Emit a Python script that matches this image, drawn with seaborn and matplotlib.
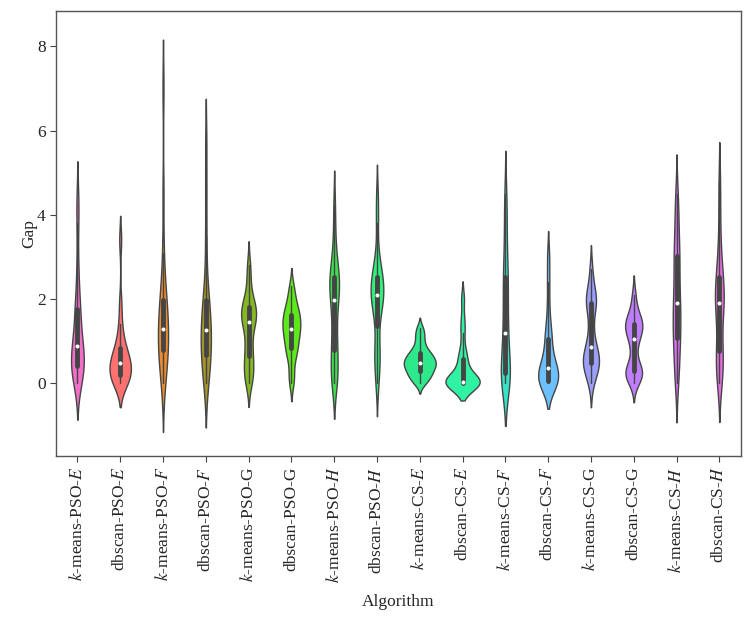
import matplotlib
matplotlib.use("Agg")
import matplotlib.pyplot as plt
import seaborn as sns
import pandas as pd

# categories (tick labels use mathtext for the italic letters)
algorithms = [
    "$k$-means-PSO-$E$", "dbscan-PSO-$E$", "$k$-means-PSO-$F$", "dbscan-PSO-$F$",
    "$k$-means-PSO-G", "dbscan-PSO-G", "$k$-means-PSO-$H$", "dbscan-PSO-$H$",
    "$k$-means-CS-$E$", "dbscan-CS-$E$", "$k$-means-CS-$F$", "dbscan-CS-$F$",
    "$k$-means-CS-G", "dbscan-CS-G", "$k$-means-CS-$H$", "dbscan-CS-$H$",
]

# gap values per algorithm
kmeans_pso_e = [0, 0.1, 0.2, 0.3, 0.38, 0.4, 0.5, 0.6, 0.7, 0.85, 0.9, 1.0, 1.2, 1.5, 1.75, 1.8, 2.2, 2.8, 3.8, 4.4]
dbscan_pso_e = [0, 0, 0.05, 0.1, 0.12, 0.2, 0.3, 0.35, 0.4, 0.45, 0.48, 0.55, 0.6, 0.7, 0.8, 0.9, 1.1, 1.4, 1.9, 3.4]
kmeans_pso_f = [0, 0.2, 0.4, 0.6, 0.7, 0.8, 0.9, 1.0, 1.2, 1.25, 1.33, 1.5, 1.7, 1.85, 1.95, 2.0, 2.5, 3.1, 4.5, 7.0]
dbscan_pso_f = [0, 0.1, 0.3, 0.5, 0.6, 0.7, 0.9, 1.0, 1.1, 1.2, 1.3, 1.45, 1.6, 1.8, 1.95, 2.0, 2.6, 3.5, 4.6, 5.7]
kmeans_pso_g = [0, 0.1, 0.25, 0.35, 0.5, 0.7, 0.8, 1.0, 1.3, 1.4, 1.5, 1.55, 1.6, 1.7, 1.8, 1.85, 1.9, 2.1, 2.5, 2.8]
dbscan_pso_g = [0, 0.2, 0.5, 0.7, 0.8, 0.85, 1.0, 1.1, 1.2, 1.25, 1.3, 1.4, 1.5, 1.55, 1.6, 1.7, 1.8, 1.9, 2.1, 2.3]
kmeans_pso_h = [0, 0.1, 0.2, 0.3, 0.7, 0.8, 1.0, 1.3, 1.6, 1.9, 2.05, 2.2, 2.3, 2.4, 2.5, 2.6, 2.7, 3.0, 3.5, 4.2]
dbscan_pso_h = [0, 0.3, 0.6, 0.8, 0.9, 1.5, 1.8, 1.85, 1.95, 2.05, 2.15, 2.2, 2.3, 2.4, 2.5, 2.6, 2.7, 3.0, 3.8, 4.4]
kmeans_cs_e = [0, 0.05, 0.15, 0.2, 0.24, 0.3, 0.35, 0.4, 0.45, 0.47, 0.5, 0.55, 0.6, 0.65, 0.7, 0.75, 0.85, 1.0, 1.15, 1.3]
dbscan_cs_e = [0, 0, 0, 0, 0, 0, 0, 0, 0, 0, 0.05, 0.1, 0.2, 0.4, 0.55, 0.6, 0.8, 1.2, 1.5, 2.0]
kmeans_cs_f = [0, 0, 0.05, 0.1, 0.2, 0.25, 0.4, 0.6, 0.9, 1.1, 1.3, 1.6, 1.9, 2.2, 2.5, 2.6, 3.0, 3.5, 4.0, 4.5]
dbscan_cs_f = [0, 0, 0, 0, 0, 0.05, 0.15, 0.25, 0.3, 0.33, 0.36, 0.45, 0.6, 0.8, 1.0, 1.2, 1.3, 1.8, 2.4, 3.0]
kmeans_cs_g = [0, 0.2, 0.3, 0.4, 0.45, 0.5, 0.55, 0.6, 0.7, 0.8, 0.9, 1.1, 1.4, 1.7, 1.9, 1.95, 2.0, 2.1, 2.3, 2.7]
dbscan_cs_g = [0, 0.1, 0.2, 0.22, 0.25, 0.3, 0.35, 0.5, 0.8, 1.0, 1.1, 1.2, 1.3, 1.35, 1.4, 1.45, 1.5, 1.6, 1.8, 2.1]
kmeans_cs_h = [0, 0.2, 0.5, 0.8, 1.0, 1.1, 1.3, 1.5, 1.7, 1.85, 1.95, 2.2, 2.5, 2.8, 3.0, 3.1, 3.4, 3.8, 4.1, 4.5]
dbscan_cs_h = [0, 0.1, 0.3, 0.5, 0.65, 0.8, 1.0, 1.4, 1.7, 1.85, 1.95, 2.0, 2.1, 2.3, 2.5, 2.6, 2.9, 3.3, 4.0, 4.8]

gap_values = [
    kmeans_pso_e, dbscan_pso_e, kmeans_pso_f, dbscan_pso_f,
    kmeans_pso_g, dbscan_pso_g, kmeans_pso_h, dbscan_pso_h,
    kmeans_cs_e, dbscan_cs_e, kmeans_cs_f, dbscan_cs_f,
    kmeans_cs_g, dbscan_cs_g, kmeans_cs_h, dbscan_cs_h,
]

colors = [
    "#f26ec8", "#ff7070", "#e98b2e", "#a3922b", "#84b823", "#5de81a", "#3be04e", "#2fef7a",
    "#2ee98c", "#2ff3a2", "#36e3c6", "#6cc0fd", "#9c9efb", "#c07eff", "#d86ff0", "#e46ede",
]

df = pd.DataFrame({
    "Algorithm": [a for a, vals in zip(algorithms, gap_values) for _ in vals],
    "Gap": [v for vals in gap_values for v in vals],
})

sns.set_style("white")
plt.rcParams["font.family"] = ["Liberation Serif", "DejaVu Serif"]
plt.rcParams["mathtext.fontset"] = "stix"

fig = plt.figure(figsize=(7.52, 6.19), dpi=100)
ax = fig.add_axes([0.0745, 0.263, 0.9105, 0.719])
sns.violinplot(data=df, x="Algorithm", y="Gap", hue="Algorithm", order=algorithms,
               hue_order=algorithms, palette=colors, saturation=1, legend=False,
               inner="box", bw_adjust=0.65, common_norm=True, density_norm="area",
               linewidth=1, linecolor="#454545",
               inner_kws=dict(box_width=3.5, whis_width=1.0, marker="o", markersize=2.2),
               ax=ax)

ax.set_ylim(-1.74, 8.84)
ax.set_yticks([0, 2, 4, 6, 8])
ax.tick_params(axis="both", direction="out", length=4, color="#444444", labelsize=12.5,
               bottom=True, left=True)
ax.tick_params(axis="x", rotation=90)
for s in ax.spines.values():
    s.set_color("#555555")
    s.set_linewidth(1)
ax.set_xlabel("Algorithm", fontsize=12.5, labelpad=8)
ax.set_ylabel("Gap", fontsize=12.5, labelpad=0)

fig.savefig("out.png", dpi=100)
